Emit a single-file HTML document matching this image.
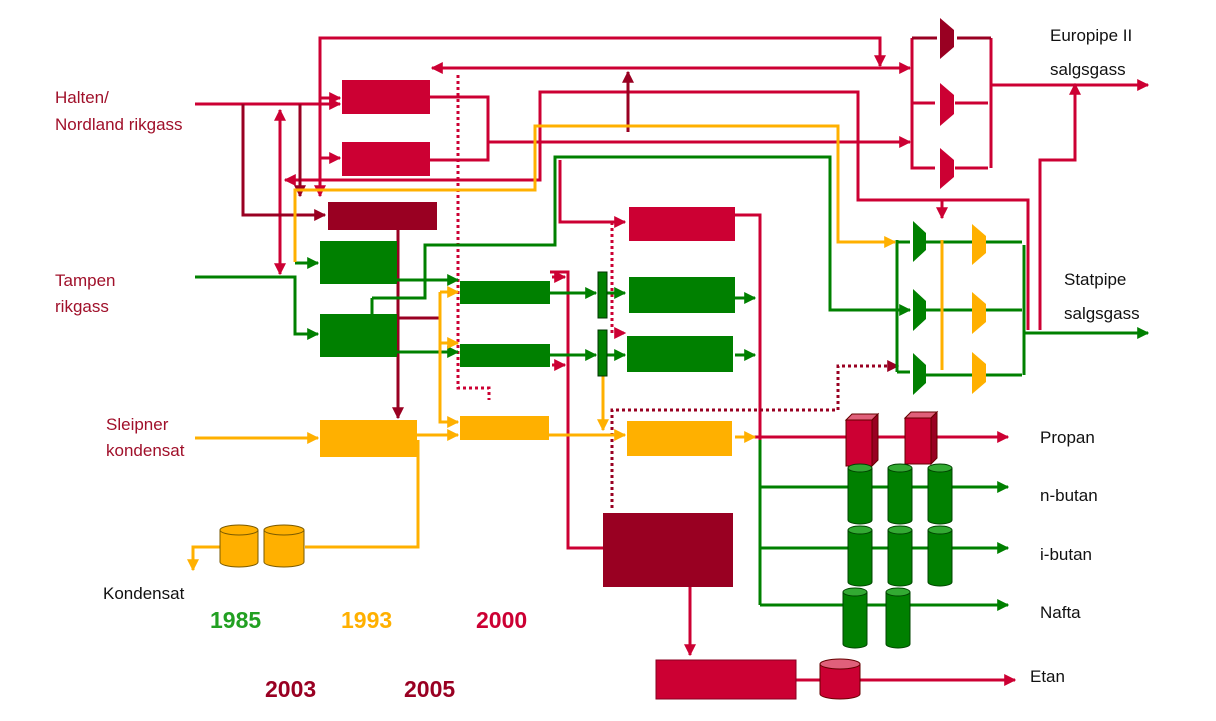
<!DOCTYPE html>
<html><head><meta charset="utf-8"><style>
body{margin:0;background:#fff}
svg{display:block}
text{font-family:"Liberation Sans",sans-serif}
</style></head><body>
<svg width="1216" height="721" viewBox="0 0 1216 721" xmlns="http://www.w3.org/2000/svg">
<defs>
<marker id="ar" viewBox="0 0 10 10" refX="9" refY="5" markerWidth="4" markerHeight="4" orient="auto-start-reverse"><path d="M0,0L10,5L0,10z" fill="#CC0033"/></marker>
<marker id="ad" viewBox="0 0 10 10" refX="9" refY="5" markerWidth="4" markerHeight="4" orient="auto-start-reverse"><path d="M0,0L10,5L0,10z" fill="#990022"/></marker>
<marker id="ag" viewBox="0 0 10 10" refX="9" refY="5" markerWidth="4" markerHeight="4" orient="auto-start-reverse"><path d="M0,0L10,5L0,10z" fill="#008000"/></marker>
<marker id="ao" viewBox="0 0 10 10" refX="9" refY="5" markerWidth="4" markerHeight="4" orient="auto-start-reverse"><path d="M0,0L10,5L0,10z" fill="#FFB000"/></marker>
</defs>
<g fill="none" stroke-width="3">
<g stroke="#CC0033">
<path d="M195,104H340" marker-end="url(#ar)"/>
<path d="M280,110V274" marker-end="url(#ar)" marker-start="url(#ar)"/>
<path d="M320,196V38H880V66" marker-end="url(#ar)" marker-start="url(#ar)"/>
<path d="M320,98H340" marker-end="url(#ar)"/>
<path d="M320,158H340" marker-end="url(#ar)"/>
<path d="M432,68H910" marker-end="url(#ar)" marker-start="url(#ar)"/>
<path d="M430,97H488V160H430"/>
<path d="M488,142H540V92H858V200H1028V330"/>
<path d="M540,142V180H285" marker-end="url(#ar)"/>
<path d="M488,142H910" marker-end="url(#ar)"/>
<path d="M912,38V168H935M912,103H935M991,38V168M955,103H988M955,168H988"/>
<path d="M991,85H1148" marker-end="url(#ar)"/>
<path d="M1040,330V160H1075V84" marker-end="url(#ar)"/>
<path d="M860,200H942V218" marker-end="url(#ar)"/>
<path d="M560,160V222H625" marker-end="url(#ar)"/>
<path d="M735,215H760V440"/>
<path d="M550,272H568V548H603"/>
<path d="M552,277H565" marker-end="url(#ar)"/>
<path d="M552,365H565" marker-end="url(#ar)"/>
<path d="M735,437H1008" marker-end="url(#ar)"/>
<path d="M796,680H1015" marker-end="url(#ar)"/>
<path d="M690,587V655" marker-end="url(#ar)"/>
<path d="M458,75V388H489V400" stroke-dasharray="3 3"/>
<path d="M612,222V333H625" stroke-dasharray="3 3" marker-end="url(#ar)"/>
</g>
<g stroke="#990022">
<path d="M243,104V215H325" marker-end="url(#ad)"/>
<path d="M300,104V196" marker-end="url(#ad)"/>
<path d="M628,72V132" marker-start="url(#ad)"/>
<path d="M398,230V418" marker-end="url(#ad)"/>
<path d="M397,318H440"/>
<path d="M912,38H937M957,38H991"/>
<path d="M612,508V410H838V366H898" stroke-dasharray="3 3" marker-end="url(#ad)"/>
</g>
<g stroke="#008000">
<path d="M195,277H295V334H318" marker-end="url(#ag)"/>
<path d="M295,263H318" marker-end="url(#ag)"/>
<path d="M372,298H425V245H555V157H830V310H910" marker-end="url(#ag)"/>
<path d="M372,298V318"/>
<path d="M397,280H458" marker-end="url(#ag)"/>
<path d="M397,352H458" marker-end="url(#ag)"/>
<path d="M550,293H596" marker-end="url(#ag)"/>
<path d="M607,293H625" marker-end="url(#ag)"/>
<path d="M550,355H596" marker-end="url(#ag)"/>
<path d="M607,355H625" marker-end="url(#ag)"/>
<path d="M735,298H755" marker-end="url(#ag)"/>
<path d="M735,355H755" marker-end="url(#ag)"/>
<path d="M897,240V372M897,242H910M897,372H910M926,242H1022M926,310H1022M926,375H1022M1024,245V375"/>
<path d="M1024,333H1148" marker-end="url(#ag)"/>
<path d="M760,440V605M760,487H1008M760,548H1008M760,605H1008"/>
<path d="M1000,487H1008" marker-end="url(#ag)"/>
<path d="M1000,548H1008" marker-end="url(#ag)"/>
<path d="M1000,605H1008" marker-end="url(#ag)"/>
</g>
<g stroke="#FFB000">
<path d="M195,438H318" marker-end="url(#ao)"/>
<path d="M417,435H458" marker-end="url(#ao)"/>
<path d="M549,435H625" marker-end="url(#ao)"/>
<path d="M735,437H755" marker-end="url(#ao)"/>
<path d="M418,440V547H305M220,547H193V570" marker-end="url(#ao)"/>
<path d="M295,262V190H535V126H838V242H895" marker-end="url(#ao)"/>
<path d="M440,292V422H458" marker-end="url(#ao)"/>
<path d="M440,292H458" marker-end="url(#ao)"/>
<path d="M440,343H458" marker-end="url(#ao)"/>
<path d="M603,358V430" marker-end="url(#ao)"/>
<path d="M942,240V370"/>
</g>
</g>
<rect x="342" y="80" width="88" height="34" fill="#CC0033"/>
<rect x="342" y="142" width="88" height="34" fill="#CC0033"/>
<rect x="328" y="202" width="109" height="28" fill="#990022"/>
<rect x="320" y="241" width="77" height="43" fill="#008000"/>
<rect x="320" y="314" width="77" height="43" fill="#008000"/>
<rect x="320" y="420" width="97" height="37" fill="#FFB000"/>
<rect x="460" y="281" width="90" height="23" fill="#008000"/>
<rect x="460" y="344" width="90" height="23" fill="#008000"/>
<rect x="460" y="416" width="89" height="24" fill="#FFB000"/>
<rect x="629" y="207" width="106" height="34" fill="#CC0033"/>
<rect x="629" y="277" width="106" height="36" fill="#008000"/>
<rect x="627" y="336" width="106" height="36" fill="#008000"/>
<rect x="627" y="421" width="105" height="35" fill="#FFB000"/>
<rect x="603" y="513" width="130" height="74" fill="#990022"/>
<rect x="656" y="660" width="140" height="39" fill="#CC0033" stroke="#880022"/>
<rect x="598" y="272" width="9" height="46" fill="#008000" stroke="#003300"/>
<rect x="598" y="330" width="9" height="46" fill="#008000" stroke="#003300"/>
<path d="M940,18L954,30V47L940,59z" fill="#990022"/>
<path d="M940,83L954,95V114L940,126z" fill="#CC0033"/>
<path d="M940,148L954,160V177L940,189z" fill="#CC0033"/>
<path d="M913,221L926,233V250L913,262z" fill="#008000"/>
<path d="M913,289L926,301V319L913,331z" fill="#008000"/>
<path d="M913,353L926,365V383L913,395z" fill="#008000"/>
<path d="M972,224L986,236V253L972,265z" fill="#FFB000"/>
<path d="M972,292L986,304V322L972,334z" fill="#FFB000"/>
<path d="M972,352L986,364V382L972,394z" fill="#FFB000"/>
<g stroke="#7a5a00" stroke-width="1">
<path d="M220,530V562A19,5 0 0 0 258,562V530" fill="#FFB000"/><ellipse cx="239" cy="530" rx="19" ry="5" fill="#FFB000"/>
<path d="M264,530V562A20,5 0 0 0 304,562V530" fill="#FFB000"/><ellipse cx="284" cy="530" rx="20" ry="5" fill="#FFB000"/>
</g>
<g stroke="#600" stroke-width="1">
<path d="M820,664V694A20,5 0 0 0 860,694V664" fill="#CC0033"/><ellipse cx="840" cy="664" rx="20" ry="5" fill="#E0607A"/>
<path d="M846,420H872V466H846z" fill="#CC0033"/><path d="M846,420L852,414H878L872,420z" fill="#E0607A"/><path d="M872,420L878,414V460L872,466z" fill="#990022"/>
<path d="M905,418H931V464H905z" fill="#CC0033"/><path d="M905,418L911,412H937L931,418z" fill="#E0607A"/><path d="M931,418L937,412V458L931,464z" fill="#990022"/>
</g>
<g stroke="#004400" stroke-width="1" fill="#008000">
<path d="M848,468V520A12,4 0 0 0 872,520V468"/><ellipse cx="860" cy="468" rx="12" ry="4" fill="#3a3"/>
<path d="M888,468V520A12,4 0 0 0 912,520V468"/><ellipse cx="900" cy="468" rx="12" ry="4" fill="#3a3"/>
<path d="M928,468V520A12,4 0 0 0 952,520V468"/><ellipse cx="940" cy="468" rx="12" ry="4" fill="#3a3"/>
<path d="M848,530V582A12,4 0 0 0 872,582V530"/><ellipse cx="860" cy="530" rx="12" ry="4" fill="#3a3"/>
<path d="M888,530V582A12,4 0 0 0 912,582V530"/><ellipse cx="900" cy="530" rx="12" ry="4" fill="#3a3"/>
<path d="M928,530V582A12,4 0 0 0 952,582V530"/><ellipse cx="940" cy="530" rx="12" ry="4" fill="#3a3"/>
<path d="M843,592V644A12,4 0 0 0 867,644V592"/><ellipse cx="855" cy="592" rx="12" ry="4" fill="#3a3"/>
<path d="M886,592V644A12,4 0 0 0 910,644V592"/><ellipse cx="898" cy="592" rx="12" ry="4" fill="#3a3"/>
</g>
<g font-size="17" fill="#A0102A">
<text x="55" y="103">Halten/</text><text x="55" y="130">Nordland rikgass</text>
<text x="55" y="286">Tampen</text><text x="55" y="312">rikgass</text>
<text x="106" y="430">Sleipner</text><text x="106" y="456">kondensat</text>
</g>
<g font-size="17" fill="#111">
<text x="103" y="599">Kondensat</text>
<text x="1050" y="41">Europipe II</text><text x="1050" y="75">salgsgass</text>
<text x="1064" y="285">Statpipe</text><text x="1064" y="319">salgsgass</text>
<text x="1040" y="443">Propan</text><text x="1040" y="501">n-butan</text>
<text x="1040" y="560">i-butan</text><text x="1040" y="618">Nafta</text>
<text x="1030" y="682">Etan</text>
</g>
<g font-size="23" font-weight="bold">
<text x="210" y="628" fill="#22A022">1985</text>
<text x="341" y="628" fill="#FFB000">1993</text>
<text x="476" y="628" fill="#CC0033">2000</text>
<text x="265" y="697" fill="#990022">2003</text>
<text x="404" y="697" fill="#990022">2005</text>
</g>
</svg>
</body></html>
